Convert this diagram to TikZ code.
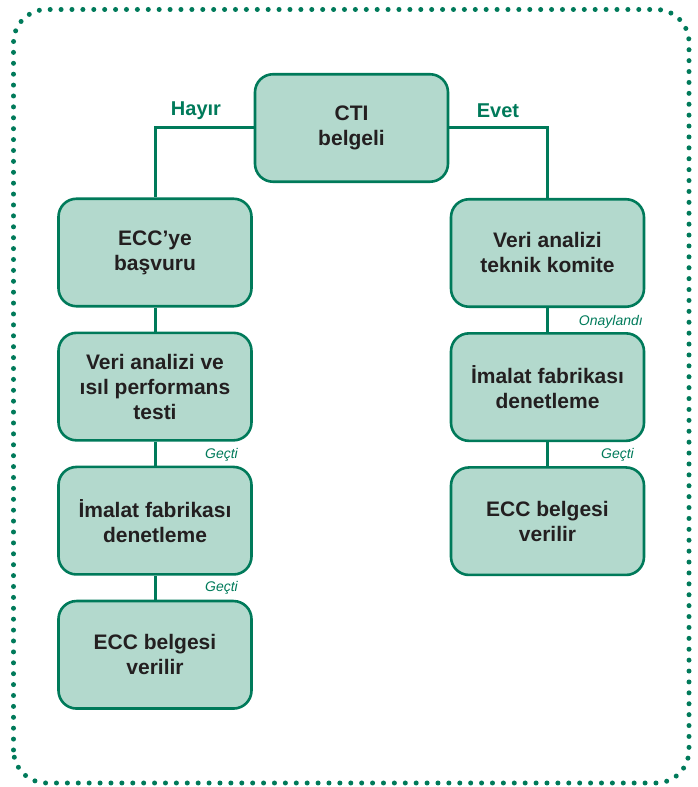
\documentclass[tikz,border=0pt]{standalone}
\usepackage{fontspec}
\setmainfont{Liberation Sans}
\usetikzlibrary{positioning}
\definecolor{ecgreen}{RGB}{0,122,90}
\definecolor{ecfill}{RGB}{179,217,205}
\definecolor{ectext}{RGB}{35,31,32}
\tikzset{
  box/.style={draw=ecgreen, line width=2.6pt, rounded corners=18pt, fill=ecfill,
              align=center, minimum width=193pt, minimum height=107.5pt,
              font=\fontsize{21}{25}\selectfont\bfseries, text=ectext, inner sep=2pt},
  link/.style={ecgreen, line width=3pt},
  ans/.style={text=ecgreen, font=\fontsize{20}{24}\selectfont\bfseries},
  tag/.style={text=ecgreen, font=\fontsize{14}{16}\selectfont\itshape, anchor=east, inner sep=0pt}
}

\begin{document}
\begin{tikzpicture}[x=1pt, y=1pt, node distance=24pt]
  \useasboundingbox (0,0) rectangle (697,787);
  % dotted frame
  \draw[ecgreen, line width=5pt, line cap=round, dash pattern=on 0pt off 10.9pt,
        rounded corners=33pt] (13.5,4) rectangle (689,777.5);

  \node[box] (cti) at (351.5,659) {CTI\\belgeli};

  \node[box] (l1) at (155,534.5) {ECC’ye\\başvuru};
  \node[box, below=of l1] (l2) {Veri analizi ve\\ısıl performans\\testi};
  \node[box, below=of l2] (l3) {İmalat fabrikası\\denetleme};
  \node[box, below=of l3] (l4) {ECC belgesi\\verilir};

  \node[box] (r1) at (547.5,534) {Veri analizi\\teknik komite};
  \node[box, below=of r1] (r2) {İmalat fabrikası\\denetleme};
  \node[box, below=of r2] (r3) {ECC belgesi\\verilir};

  \draw[link] (cti.west) -| (l1.north);
  \draw[link] (cti.east) -| (r1.north);
  \draw[link] (l1) -- (l2); \draw[link] (l2) -- (l3); \draw[link] (l3) -- (l4);
  \draw[link] (r1) -- (r2); \draw[link] (r2) -- (r3);

  \node[ans] (no) at (196,676) {Hayır};
  \node[ans] (yes) at (498,676) {Evet};
  \node[tag] (t1) at (238,332) {Geçti};
  \node[tag] (t2) at (238,199) {Geçti};
  \node[tag] (t3) at (643,465) {Onaylandı};
  \node[tag] (t4) at (634,332) {Geçti};
\end{tikzpicture}
\end{document}
